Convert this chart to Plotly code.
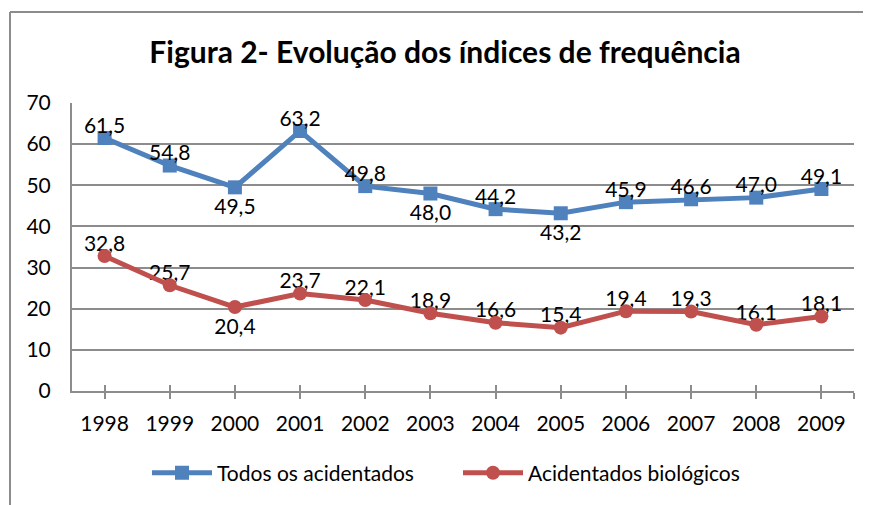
import plotly.graph_objects as go

years = [1998, 1999, 2000, 2001, 2002, 2003, 2004, 2005, 2006, 2007, 2008, 2009]
todos = [61.5, 54.8, 49.5, 63.2, 49.8, 48.0, 44.2, 43.2, 45.9, 46.6, 47.0, 49.1]
biologicos = [32.8, 25.7, 20.4, 23.7, 22.1, 18.9, 16.6, 15.4, 19.4, 19.3, 16.1, 18.1]
pos_todos = ["top center", "top center", "bottom center", "top center", "top center", "bottom center",
             "top center", "bottom center", "top center", "top center", "top center", "top center"]
pos_bio = ["top center", "top center", "bottom center", "top center", "top center", "top center",
           "top center", "top center", "top center", "top center", "top center", "top center"]
title_text = "Figura 2- Evolução dos índices de frequência"
name_todos = "Todos os acidentados"
name_bio = "Acidentados biológicos"

BLUE = "#4F81BD"
RED = "#C0504D"
GRID = "#8C8C8C"
FONT = "Lato"
FS = 21

# page is rendered with an 8px body offset; layout numbers below are in figure px
L, T = 64, 95
PW, PH = 782, 288


def fmt(v):
    return f"{v:.1f}".replace(".", ",")


def label_pad(positions):
    # invisible spacer marker: pushes labels placed below a bit further away
    return [16 if p.startswith("bottom") else 0 for p in positions]


fig = go.Figure()
fig.add_trace(go.Scatter(
    x=years, y=todos, name=name_todos, mode="lines+markers",
    line=dict(color=BLUE, width=5),
    marker=dict(symbol="square", size=14, color=BLUE),
))
fig.add_trace(go.Scatter(
    x=years, y=biologicos, name=name_bio, mode="lines+markers",
    xaxis="x2",
    line=dict(color=RED, width=5),
    marker=dict(symbol="circle", size=14, color=RED),
))
# data labels
fig.add_trace(go.Scatter(
    x=years, y=todos, mode="markers+text", showlegend=False, hoverinfo="skip",
    marker=dict(size=label_pad(pos_todos), opacity=0),
    text=[fmt(v) for v in todos], textposition=pos_todos,
    textfont=dict(family=FONT, size=FS, color="#000000"), cliponaxis=False,
))
fig.add_trace(go.Scatter(
    x=years, y=biologicos, mode="markers+text", showlegend=False, hoverinfo="skip",
    marker=dict(size=label_pad(pos_bio), opacity=0),
    text=[fmt(v) for v in biologicos], textposition=pos_bio,
    textfont=dict(family=FONT, size=FS, color="#000000"), cliponaxis=False,
))

xr = [years[0] - 0.5, years[-1] + 0.5]
tickvals = years + [years[-1] + 0.5]
ticktext = [str(y) for y in years] + [""]

fig.update_layout(
    width=871, height=505,
    paper_bgcolor="white", plot_bgcolor="white",
    margin=dict(l=L, r=871 - L - PW, t=T, b=505 - T - PH),
    font=dict(family=FONT, size=FS, color="#000000"),
    title=dict(text=f"<b>{title_text}</b>", x=437 / 871, xanchor="center",
               y=1 - 44 / 505, yanchor="middle", yref="container",
               font=dict(family=FONT, size=30, color="#000000")),
    xaxis=dict(range=xr, tickmode="array", tickvals=tickvals, ticktext=ticktext,
               showgrid=False, zeroline=False, showline=True, linecolor=GRID, linewidth=2,
               ticks="outside", ticklen=6, tickwidth=2, tickcolor=GRID,
               ticklabelstandoff=7,
               tickfont=dict(family=FONT, size=FS, color="#000000")),
    xaxis2=dict(range=xr, overlaying="x", anchor="y", tickmode="array", tickvals=tickvals,
                showticklabels=False, showgrid=False, zeroline=False, showline=False,
                ticks="inside", ticklen=6, tickwidth=2, tickcolor=GRID, side="bottom"),
    yaxis=dict(range=[0, 70], dtick=10, tick0=0, showgrid=True, gridcolor=GRID, gridwidth=2,
               zeroline=False, showline=True, linecolor=GRID, linewidth=2,
               ticks="", ticklabelstandoff=15,
               tickfont=dict(family=FONT, size=FS, color="#000000")),
    legend=dict(orientation="h", x=(139 - L) / PW, xanchor="left", y=-0.285, yanchor="middle",
                font=dict(family=FONT, size=FS, color="#000000"),
                itemwidth=60, tracegroupgap=0, entrywidth=236),
    showlegend=True,
)

# outer chart frame
fx = (2 - L) / PW
fy = (T + PH - 4) / PH
fig.add_shape(type="line", xref="paper", yref="paper",
              x0=fx, x1=fx, y0=fy, y1=-0.5, line=dict(color=GRID, width=2))
fig.add_shape(type="line", xref="paper", yref="paper",
              x0=fx, x1=1.2, y0=fy, y1=fy, line=dict(color=GRID, width=2))

fig.write_html("out.html")
